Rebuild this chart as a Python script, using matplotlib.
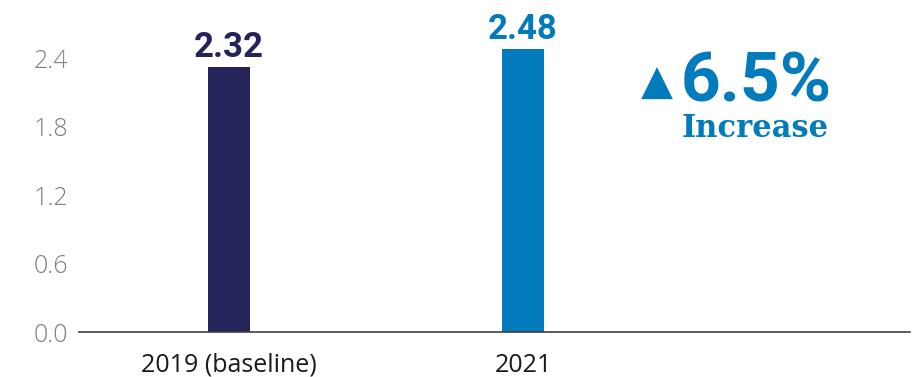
import matplotlib.pyplot as plt
import numpy as np

categories = ['2019 (baseline)', '2021']
values = [2.32, 2.48]
bar_colors = ['#25245a', '#027bbd']
yticks = [0.0, 0.6, 1.2, 1.8, 2.4]
change_label = '6.5%'
change_word = 'Increase'

W, H = 923, 377
fig = plt.figure(figsize=(W / 100, H / 100), dpi=100)
# axes placed in pixel terms of the reference
ax = fig.add_axes([79 / W, 45 / H, 831 / W, 331 / H])

x = np.arange(len(categories))
ax.bar(x, values, width=0.143, color=bar_colors, zorder=2)
ax.set_xlim(-0.51, 2.316)
ax.set_ylim(0, 2.9)

for s in ['top', 'right', 'left']:
    ax.spines[s].set_visible(False)
ax.spines['bottom'].set_color('#404040')
ax.spines['bottom'].set_linewidth(1.2)

ax.set_yticks(yticks)
ax.set_yticklabels([f'{v:.1f}' for v in yticks], color='#7f7f7f',
                   fontsize=18, family='Open Sans', fontweight='light')
ax.tick_params(axis='y', length=0, pad=8)
ax.set_xticks(x)
ax.set_xticklabels(categories, fontsize=18, family='Open Sans', color='#1a1a1a')
ax.tick_params(axis='x', length=0, pad=15)

for xi, v, c in zip(x, values, bar_colors):
    ax.annotate(f'{v:.2f}', (xi, v), xytext=(0, 7.5), textcoords='offset points',
                ha='center', va='baseline', color=c, fontsize=25,
                family='Roboto', fontweight='bold', fontstretch='condensed')

blue = bar_colors[1]
fig.text(657 / W, 1 - 83 / H, '\u25b2', color=blue, fontsize=30,
         family='DejaVu Sans', ha='center', va='center')
fig.text(756 / W, 1 - 102 / H, change_label, color=blue, fontsize=50,
         family='Roboto', fontweight='bold', ha='center', va='baseline')
fig.text(755 / W, 1 - 137 / H, change_word, color=blue, fontsize=22,
         family='DejaVu Serif', fontweight='bold', ha='center', va='baseline')

plt.savefig('out.png', dpi=100)
